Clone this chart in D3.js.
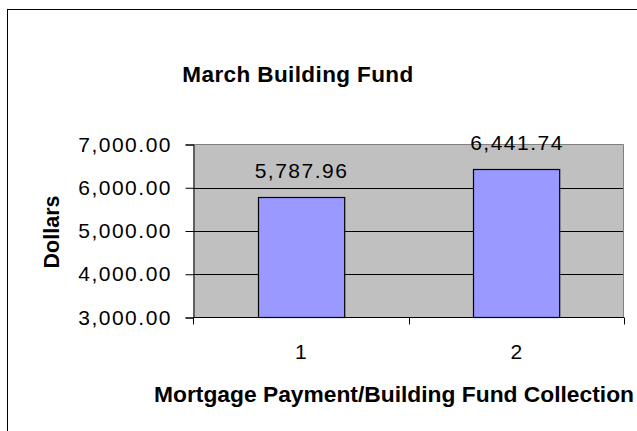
<!DOCTYPE html>
<html>
<head>
<meta charset="utf-8">
<script src="https://cdn.jsdelivr.net/npm/d3@7"></script>
<style>
  html, body { margin: 0; padding: 0; background: #fff; overflow: hidden; }
  svg { display: block; }
  text { font-family: "Liberation Sans", Arial, sans-serif; fill: #000; }
</style>
</head>
<body>
<svg id="chart" width="637" height="431"></svg>
<script>
const title = "March Building Fund";
const categories = ["1", "2"];
const values = [5787.96, 6441.74];
const valueLabels = ["5,787.96", "6,441.74"];
const yTicks = [3000, 4000, 5000, 6000, 7000];
const yTitle = "Dollars";
const xTitle = "Mortgage Payment/Building Fund Collection";

const svg = d3.select("#chart");
const plot = { left: 193, right: 624, top: 144.5, bottom: 317.5 };

// outer chart border (extends beyond the window on the right and bottom)
svg.append("rect")
  .attr("x", 7.5).attr("y", 9.5).attr("width", 700).attr("height", 500)
  .attr("fill", "#fff").attr("stroke", "#000").attr("stroke-width", 1);

const x = d3.scaleBand().domain(categories)
  .range([plot.left, plot.right]).paddingInner(0.6).paddingOuter(0.3);
const y = d3.scaleLinear().domain([3000, 7000]).range([plot.bottom, plot.top]);

// plot background
svg.append("rect")
  .attr("x", plot.left).attr("y", plot.top)
  .attr("width", plot.right - plot.left).attr("height", plot.bottom - plot.top)
  .attr("fill", "#C0C0C0");

// gridlines
svg.append("g").selectAll("line").data(yTicks.filter(d => d > 3000 && d < 7000)).join("line")
  .attr("x1", plot.left).attr("x2", plot.right)
  .attr("y1", d => Math.round(y(d)) + 0.5).attr("y2", d => Math.round(y(d)) + 0.5)
  .attr("stroke", "#000").attr("stroke-width", 1);

// plot border top / right
svg.append("path")
  .attr("d", `M${plot.left},${plot.top}H${plot.right - 0.5}V${plot.bottom}`)
  .attr("fill", "none").attr("stroke", "#808080").attr("stroke-width", 1);

// bars
svg.append("g").selectAll("rect").data(values).join("rect")
  .attr("x", (d, i) => Math.round(x(categories[i])) + 0.5)
  .attr("y", d => Math.round(y(d)) + 0.5)
  .attr("width", x.bandwidth())
  .attr("height", d => plot.bottom - Math.round(y(d)) - 0.5)
  .attr("fill", "#9999FF").attr("stroke", "#000").attr("stroke-width", 1.2);

// value labels
svg.append("g").selectAll("text").data(values).join("text")
  .attr("x", (d, i) => x(categories[i]) + x.bandwidth() / 2 + 0.75)
  .attr("y", d => y(d) - 19)
  .attr("text-anchor", "middle")
  .attr("font-size", 21).attr("letter-spacing", 1.5)
  .text((d, i) => valueLabels[i]);

// y axis
const yAxis = d3.axisLeft(y).tickValues(yTicks).tickSize(8).tickPadding(13.5)
  .tickFormat(d3.format(",.2f"));
const gy = svg.append("g").attr("transform", `translate(${plot.left + 0.5},0)`).call(yAxis);
gy.select(".domain").attr("stroke", "#000");
gy.selectAll(".tick line").attr("stroke", "#000");
gy.selectAll(".tick text").attr("font-size", 21).attr("letter-spacing", 1.5)
  .attr("font-family", "Liberation Sans, Arial, sans-serif").attr("fill", "#000");

// x axis: ticks at category boundaries
const xAxisG = svg.append("g").attr("transform", `translate(0,${plot.bottom})`);
xAxisG.append("line").attr("x1", plot.left).attr("x2", plot.right)
  .attr("stroke", "#000");
const boundaries = [0, 1, 2].map(i => plot.left + i * (plot.right - plot.left) / categories.length);
xAxisG.selectAll("line.tk").data(boundaries).join("line").attr("class", "tk")
  .attr("x1", d => Math.round(d) + 0.5).attr("x2", d => Math.round(d) + 0.5)
  .attr("y1", 0).attr("y2", 7).attr("stroke", "#000");
xAxisG.selectAll("text").data(categories).join("text")
  .attr("x", d => x(d) + x.bandwidth() / 2)
  .attr("y", 41.5)
  .attr("text-anchor", "middle").attr("font-size", 21)
  .text(d => d);

// titles
svg.append("text").attr("x", 298).attr("y", 82)
  .attr("text-anchor", "middle").attr("font-size", 22.5).attr("font-weight", "bold")
  .attr("letter-spacing", 0.4)
  .text(title);

svg.append("text")
  .attr("transform", "translate(59,232) rotate(-90)")
  .attr("text-anchor", "middle").attr("font-size", 21.5).attr("font-weight", "bold")
  .text(yTitle);

svg.append("text").attr("x", 154).attr("y", 401.5)
  .attr("text-anchor", "start").attr("font-size", 22.8).attr("font-weight", "bold")
  .text(xTitle);
</script>
</body>
</html>
